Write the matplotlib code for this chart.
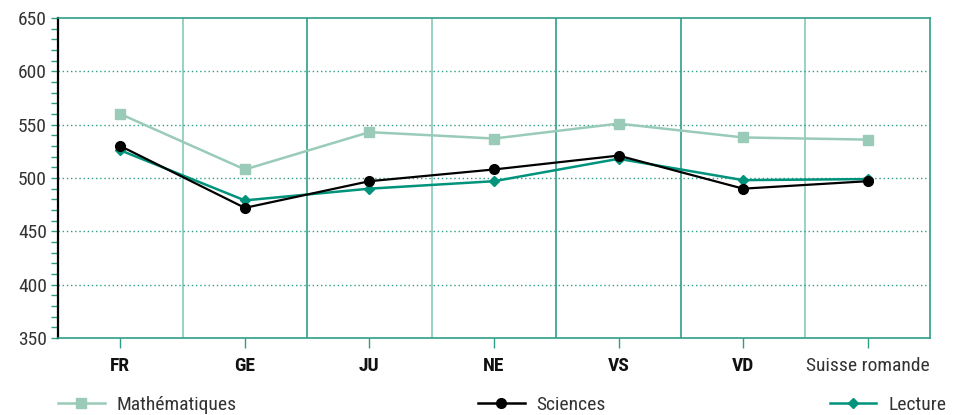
import matplotlib
matplotlib.use("Agg")
import matplotlib.pyplot as plt
from matplotlib.lines import Line2D
from matplotlib.ticker import MultipleLocator

plt.rcParams['font.family'] = ['Roboto Condensed', 'Liberation Sans Narrow',
                               'DejaVu Sans Condensed', 'Roboto', 'DejaVu Sans']
plt.rcParams['font.stretch'] = 'condensed'

categories = ["FR", "GE", "JU", "NE", "VS", "VD", "Suisse romande"]
mathematiques = [560, 508, 543, 537, 551, 538, 536]
sciences = [530, 472, 497, 508, 521, 490, 497]
lecture = [526, 479, 490, 497, 518, 498, 499]
y_ticks = [350, 400, 450, 500, 550, 600, 650]

C_MATH = "#99cbb8"
C_SCI = "#000000"
C_LEC = "#00937c"
C_LIGHT = "#86cbbb"
C_DARK = "#2e9e87"

fig = plt.figure(figsize=(9.55, 4.15), dpi=100)
ax = fig.add_axes([58 / 955, 77 / 415, 872 / 955, 320 / 415])

x = list(range(len(categories)))
ax.plot(x, mathematiques, color=C_MATH, lw=1.8, marker="s", ms=7.5, zorder=3)
ax.plot(x, sciences, color=C_SCI, lw=1.6, marker="o", ms=7, zorder=5)
ax.plot(x, lecture, color=C_LEC, lw=1.8, marker="D", ms=5.5, zorder=4)

ax.set_xlim(-0.5, len(categories) - 0.5)
ax.set_ylim(350, 650)

# vertical separators between groups
for i in range(1, len(categories)):
    ax.axvline(i - 0.5, color=C_LIGHT if i in (1, 3, 6) else C_DARK, lw=1.2, zorder=1)

# dotted horizontal gridlines
for v in y_ticks[1:-1]:
    ax.axhline(v, color=C_DARK, lw=1.0, ls=(0, (1, 2)), zorder=1)

ax.set_yticks(y_ticks)
ax.yaxis.set_minor_locator(MultipleLocator(10))
ax.tick_params(axis="y", which="both", direction="out", length=5, width=1, color=C_DARK,
               labelsize=14, labelcolor="#333333", pad=3)
ax.set_xticks(x)
ax.set_xticklabels(categories)
ax.tick_params(axis="x", direction="out", length=7, width=1, color=C_DARK,
               labelsize=14, labelcolor="#111111", pad=7)
for lbl in ax.get_xticklabels()[:-1]:
    lbl.set_fontweight("bold")
ax.get_xticklabels()[-1].set_color("#333333")

for side in ("top", "bottom", "right"):
    ax.spines[side].set_color(C_DARK)
    ax.spines[side].set_linewidth(1.2)
ax.spines["left"].set_color("#000000")
ax.spines["left"].set_linewidth(1.6)

legend_items = [
    ("Mathématiques", C_MATH, "s", 7.5, 58 / 955, "center left"),
    ("Sciences", C_SCI, "o", 7, 478 / 955, "center left"),
    ("Lecture", C_LEC, "D", 5.5, 946 / 955, "center right"),
]
for label, col, mk, ms, xpos, loc in legend_items:
    h = Line2D([], [], color=col, lw=1.8, marker=mk, ms=ms)
    fig.legend([h], [label], loc=loc, bbox_to_anchor=(xpos, 10 / 415),
               frameon=False, handlelength=2.4, handletextpad=0.6, borderpad=0,
               borderaxespad=0, fontsize=14, labelcolor="#333333")

fig.savefig("out.png", dpi=100)
